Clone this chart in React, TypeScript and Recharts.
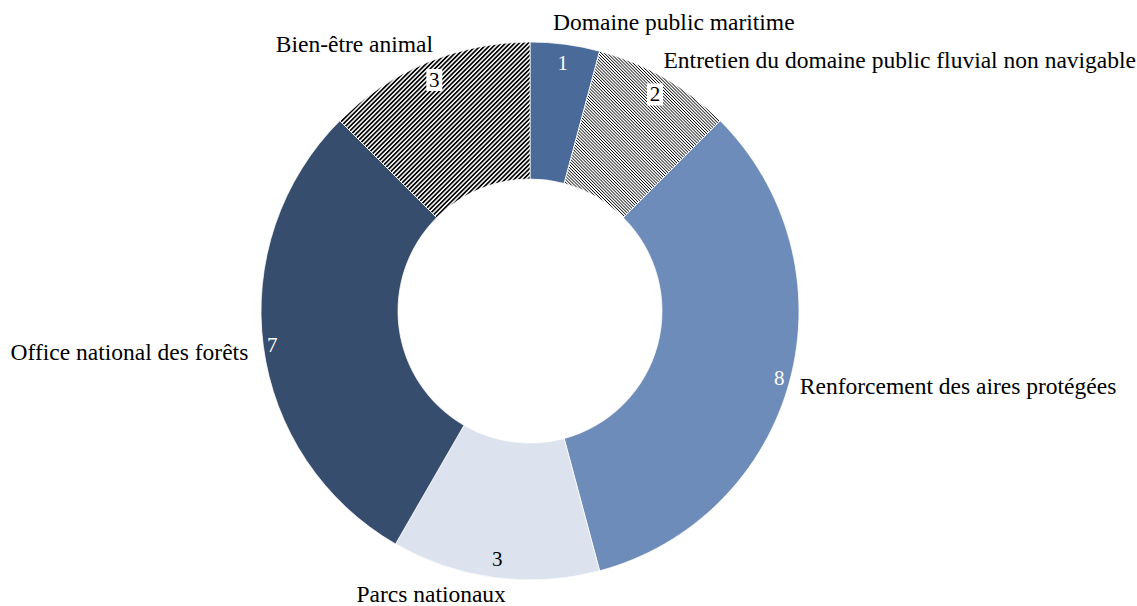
import { PieChart, Pie, Cell } from "recharts";

const categories = [
  "Domaine public maritime",
  "Entretien du domaine public fluvial non navigable",
  "Renforcement des aires protégées",
  "Parcs nationaux",
  "Office national des forêts",
  "Bien-être animal",
];
const values = [1, 2, 8, 3, 7, 3];

const fills = ["#4a6a99", "url(#hatchDense)", "#6e8cb9", "#dde3ee", "#374d6d", "url(#hatchBold)"];
const valueColors = ["#fff", "#000", "#fff", "#000", "#fff", "#000"];
const valueBoxed = [false, true, false, false, false, true];
// how far inside the outer edge each value sits
const valueInset = [19, 19, 11, 19, 9, 19];
// nudges of the category labels around the outer edge
const labelPlace = [
  { anchor: "start", dx: -12, dy: -22 },
  { anchor: "start", dx: -1, dy: -18 },
  { anchor: "start", dx: 10, dy: 5 },
  { anchor: "end", dx: 11, dy: 16 },
  { anchor: "end", dx: -15, dy: 6 },
  { anchor: "end", dx: 6, dy: -18 },
];

const data = categories.map((name, i) => ({ name, value: values[i] }));

const RADIAN = Math.PI / 180;
const FONT = "'Liberation Serif', 'Times New Roman', serif";

const renderLabel = (props: any) => {
  const { cx, cy, midAngle, outerRadius, value, name, index } = props;
  const cos = Math.cos(-midAngle * RADIAN);
  const sin = Math.sin(-midAngle * RADIAN);
  const vr = outerRadius - valueInset[index];
  const vx = cx + vr * cos;
  const vy = cy + vr * sin;
  const ox = cx + outerRadius * cos;
  const oy = cy + outerRadius * sin;
  const p = labelPlace[index];
  return (
    <g>
      {valueBoxed[index] && <rect x={vx - 8} y={vy - 11} width={16} height={22} fill="#fff" />}
      <text
        x={vx}
        y={vy}
        fill={valueColors[index]}
        textAnchor="middle"
        dominantBaseline="central"
        style={{ fontFamily: FONT, fontSize: 21 }}
      >
        {value}
      </text>
      <text
        x={ox + p.dx}
        y={oy + p.dy}
        fill="#000"
        textAnchor={p.anchor as any}
        dominantBaseline="central"
        style={{ fontFamily: FONT, fontSize: 23.5 }}
      >
        {name}
      </text>
    </g>
  );
};

export default function App() {
  return (
    <div style={{ position: "absolute", left: 0, top: 0, background: "#fff" }}>
      <PieChart width={1137} height={606} margin={{ top: 0, right: 0, bottom: 0, left: 0 }}>
        <defs>
          <pattern id="hatchBold" width={3.2} height={3.2} patternUnits="userSpaceOnUse" patternTransform="rotate(45)">
            <rect x={0} y={0} width={3.2} height={3.2} fill="#fff" />
            <rect x={0} y={0} width={1.7} height={3.2} fill="#000" />
          </pattern>
          <pattern id="hatchDense" width={2.2} height={2.2} patternUnits="userSpaceOnUse" patternTransform="rotate(-45)">
            <rect x={0} y={0} width={2.2} height={2.2} fill="#fff" />
            <rect x={0} y={0} width={0.75} height={2.2} fill="#000" />
          </pattern>
        </defs>
        <Pie
          data={data}
          dataKey="value"
          nameKey="name"
          cx={530}
          cy={311}
          innerRadius={132}
          outerRadius={269}
          startAngle={90}
          endAngle={-270}
          stroke="#fff"
          strokeWidth={0.75}
          label={renderLabel}
          labelLine={false}
          isAnimationActive={false}
        >
          {data.map((d, i) => (
            <Cell key={d.name} fill={fills[i]} />
          ))}
        </Pie>
      </PieChart>
    </div>
  );
}
